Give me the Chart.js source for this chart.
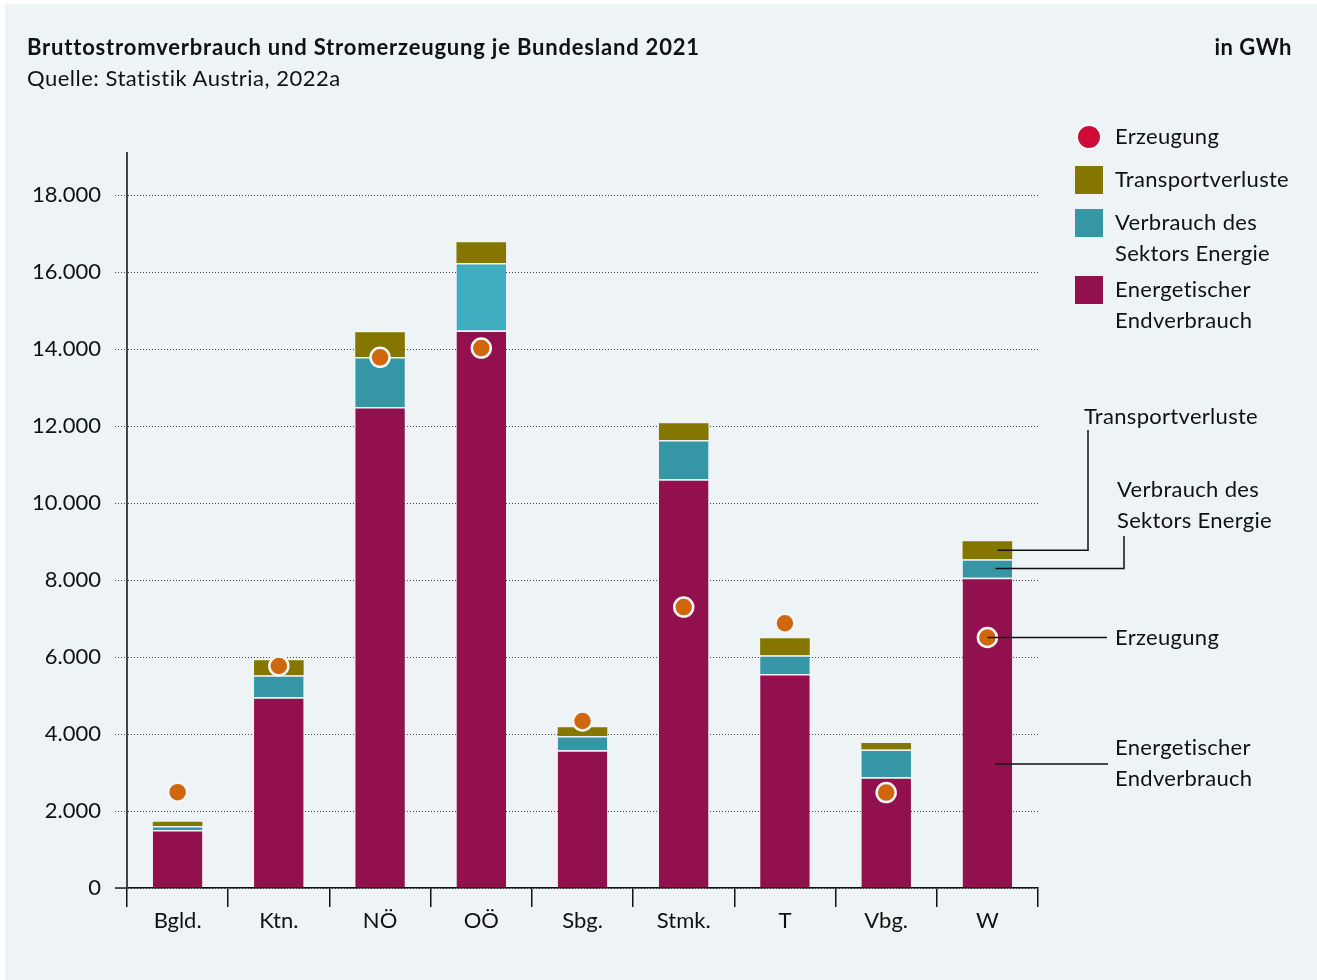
<!DOCTYPE html>
<html>
<head>
<meta charset="utf-8">
<script src="https://cdn.jsdelivr.net/npm/chart.js@4/dist/chart.umd.min.js"></script>
<style>
  body { margin: 0; background: #fff; font-family: Lato, sans-serif; }
  #panel { position: absolute; left: 5px; top: 4px; width: 1312px; height: 976px; background: #eef3f6; }
  #chart { position: absolute; left: 0; top: 0; }
  .title { position: absolute; left: 22px; top: 29px; font-size: 22px; letter-spacing: 0.8px; font-weight: bold; color: #111; }
  .unit { position: absolute; right: 25px; top: 29px; font-size: 22px; letter-spacing: 0.5px; font-weight: bold; color: #111; }
  .sub { position: absolute; left: 22px; top: 60px; font-size: 22px; letter-spacing: 0.5px; color: #111; }
</style>
</head>
<body>
<div id="panel">
  <canvas id="chart" width="1312" height="976"></canvas>
  <div class="title">Bruttostromverbrauch und Stromerzeugung je Bundesland 2021</div>
  <div class="unit">in GWh</div>
  <div class="sub">Quelle: Statistik Austria, 2022a</div>
</div>
<script>
// Werte in GWh
var laender = ['Bgld.', 'Ktn.', 'NÖ', 'OÖ', 'Sbg.', 'Stmk.', 'T', 'Vbg.', 'W']
var endverbrauch = [1510, 4960, 12500, 14490, 3580, 10620, 5560, 2880, 8060]
var sektorEnergie = [100, 570, 1300, 1750, 370, 1020, 490, 720, 485]
var transportverluste = [110, 390, 640, 540, 230, 440, 440, 170, 465]
var erzeugung = [2490, 5770, 13790, 14030, 4340, 7300, 6880, 2480, 6510]
var yTicks = [0, 2000, 4000, 6000, 8000, 10000, 12000, 14000, 16000, 18000]

var cMagenta = '#93104f'
var cTeal = '#3596a6'
var cTealHell = '#3dadbf'
var cOliv = '#857600'
var cOrange = '#cf670d'
var cRot = '#cf0a3b'
var font = 'Lato, sans-serif'

// legend + labels at the W bar
var extras = {
    id: 'extras',
    afterDraw: function (chart) {
        var ctx = chart.ctx
        var x = chart.scales.x, y = chart.scales.y
        ctx.save()
        // baseline extension left of the axis
        ctx.strokeStyle = '#222'
        ctx.lineWidth = 1.5
        ctx.beginPath()
        ctx.moveTo(x.left - 12, y.getPixelForValue(0))
        ctx.lineTo(x.left, y.getPixelForValue(0))
        ctx.stroke()

        // legend
        ctx.fillStyle = cRot
        ctx.strokeStyle = '#fff'
        ctx.lineWidth = 2
        ctx.beginPath()
        ctx.arc(1084, 133, 12, 0, Math.PI * 2)
        ctx.fill()
        ctx.stroke()
        ctx.fillStyle = cOliv
        ctx.fillRect(1070, 162, 28, 28)
        ctx.fillStyle = cTeal
        ctx.fillRect(1070, 205, 28, 28)
        ctx.fillStyle = cMagenta
        ctx.fillRect(1070, 272, 28, 28)

        ctx.fillStyle = '#111'
        ctx.font = '22px ' + font
        ctx.letterSpacing = '0.3px'
        ctx.textBaseline = 'middle'
        ctx.textAlign = 'left'
        ctx.fillText('Erzeugung', 1110, 133)
        ctx.fillText('Transportverluste', 1110, 176)
        ctx.fillText('Verbrauch des', 1110, 219)
        ctx.fillText('Sektors Energie', 1110, 250)
        ctx.fillText('Energetischer', 1110, 286)
        ctx.fillText('Endverbrauch', 1110, 317)

        // callouts for W
        var i = laender.length - 1
        var xc = x.getPixelForValue(i)
        var yTr = y.getPixelForValue(endverbrauch[i] + sektorEnergie[i] + transportverluste[i] / 2)
        var ySe = y.getPixelForValue(endverbrauch[i] + sektorEnergie[i] / 2)
        var yEr = y.getPixelForValue(erzeugung[i])
        var yEn = y.getPixelForValue(endverbrauch[i] * 0.4)
        ctx.strokeStyle = '#111'
        ctx.lineWidth = 1.5
        ctx.beginPath()
        ctx.moveTo(xc + 10, yTr); ctx.lineTo(1083, yTr); ctx.lineTo(1083, 426)
        ctx.moveTo(xc + 8, ySe); ctx.lineTo(1119, ySe); ctx.lineTo(1119, 532)
        ctx.moveTo(xc, yEr); ctx.lineTo(1102, yEr)
        ctx.moveTo(xc + 8, yEn); ctx.lineTo(1103, yEn)
        ctx.stroke()

        ctx.fillText('Transportverluste', 1079, 413)
        ctx.fillText('Verbrauch des', 1112, 486)
        ctx.fillText('Sektors Energie', 1112, 517)
        ctx.fillText('Erzeugung', 1110, yEr)
        ctx.fillText('Energetischer', 1110, 744)
        ctx.fillText('Endverbrauch', 1110, 775)
        ctx.restore()
    }
}

var ctx = document.getElementById('chart').getContext('2d')
var chart = new Chart(ctx, {
    type: 'bar',
    data: {
        labels: laender,
        datasets: [{
            type: 'line',
            label: 'Erzeugung',
            data: erzeugung,
            stack: 'erz',
            showLine: false,
            pointRadius: 9.5,
            pointHoverRadius: 9.5,
            pointBackgroundColor: cOrange,
            pointBorderColor: '#f4f7f8',
            pointBorderWidth: 2.5,
            order: 0
        }, {
            label: 'Energetischer Endverbrauch',
            data: endverbrauch,
            stack: 's',
            backgroundColor: cMagenta,
            borderColor: 'rgba(235,242,245,0.9)',
            borderWidth: { top: 1.5, left: 0, right: 0, bottom: 0 },
            borderSkipped: false,
            order: 1
        }, {
            label: 'Verbrauch des Sektors Energie',
            data: sektorEnergie,
            stack: 's',
            backgroundColor: laender.map(function (l) { return l == 'OÖ' ? cTealHell : cTeal }),
            borderColor: 'rgba(235,242,245,0.9)',
            borderWidth: { top: 1.5, left: 0, right: 0, bottom: 0 },
            borderSkipped: false,
            order: 1
        }, {
            label: 'Transportverluste',
            data: transportverluste,
            stack: 's',
            backgroundColor: cOliv,
            borderWidth: 0,
            order: 1
        }]
    },
    options: {
        responsive: false,
        animation: false,
        categoryPercentage: 1,
        barPercentage: 0.49,
        layout: { padding: { left: 0, right: 279, top: 149, bottom: 32 } },
        plugins: { legend: { display: false }, tooltip: { enabled: false } },
        scales: {
            x: {
                stacked: true,
                afterFit: function (s) { s.height = 60 },
                grid: { offset: true, drawOnChartArea: false, drawTicks: true, tickLength: 19, color: '#111', lineWidth: 1.5 },
                border: { display: true, color: '#111', width: 1.5 },
                ticks: { color: '#111', font: { family: font, size: 22 }, padding: 1 }
            },
            y: {
                stacked: true,
                min: 0,
                max: 19100,
                afterFit: function (s) { s.width = 122 },
                afterBuildTicks: function (s) { s.ticks = yTicks.map(function (v) { return { value: v } }) },
                grid: {
                    color: '#444',
                    lineWidth: 1,
                    tickLength: 12,
                    tickColor: '#444',
                    tickBorderDash: [1, 2]
                },
                border: { display: true, color: '#444', width: 2, dash: [1, 2] },
                ticks: {
                    color: '#111',
                    font: { family: font, size: 22 },
                    padding: 14,
                    callback: function (v) { return v.toLocaleString('de-DE') }
                }
            }
        }
    },
    plugins: [extras]
})
</script>
</body>
</html>
